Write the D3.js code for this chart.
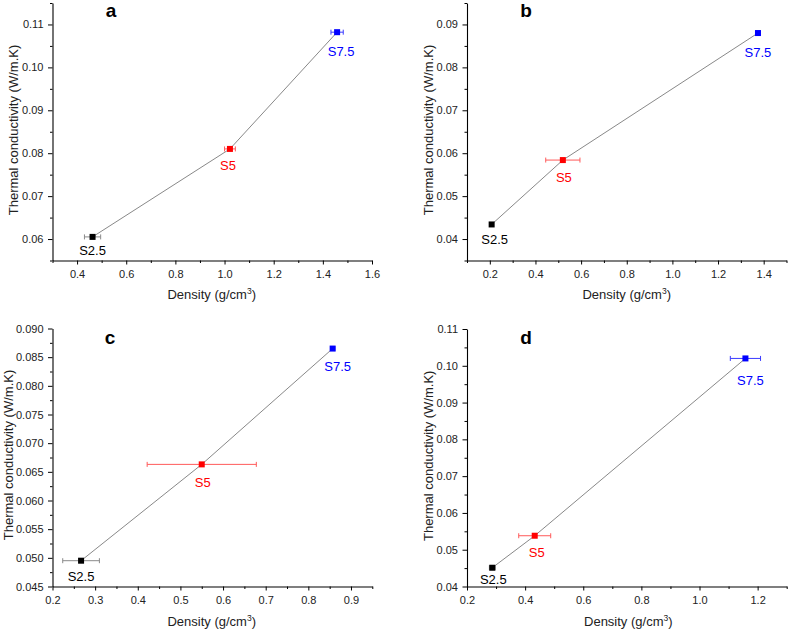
<!DOCTYPE html>
<html>
<head>
<meta charset="utf-8">
<script src="https://cdn.jsdelivr.net/npm/d3@7"></script>
<style>
  body { margin: 0; background: #fff; }
  svg { display: block; }
  text { font-family: Arial, "Liberation Sans", sans-serif; }
</style>
</head>
<body>
<svg id="chart" width="789" height="630"></svg>
<script>
// samples, same order in every panel
var sampleNames = ["S2.5", "S5", "S7.5"];

// panel a
var densityA = [0.463, 1.022, 1.458];
var conductA = [0.0605, 0.0810, 0.1082];
var densErrA = [0.033, 0.022, 0.025];
var xTicksA = [0.4, 0.6, 0.8, 1.0, 1.2, 1.4, 1.6];
var yTicksA = [0.06, 0.07, 0.08, 0.09, 0.10, 0.11];

// panel b
var densityB = [0.208, 0.520, 1.375];
var conductB = [0.0434, 0.0584, 0.0880];
var densErrB = [0.006, 0.075, 0.008];
var xTicksB = [0.2, 0.4, 0.6, 0.8, 1.0, 1.2, 1.4];
var yTicksB = [0.04, 0.05, 0.06, 0.07, 0.08, 0.09];

// panel c
var densityC = [0.267, 0.550, 0.857];
var conductC = [0.0495, 0.0663, 0.0865];
var densErrC = [0.043, 0.128, 0.005];
var xTicksC = [0.2, 0.3, 0.4, 0.5, 0.6, 0.7, 0.8, 0.9];
var yTicksC = [0.045, 0.050, 0.055, 0.060, 0.065, 0.070, 0.075, 0.080, 0.085, 0.090];

// panel d
var densityD = [0.287, 0.433, 1.158];
var conductD = [0.0451, 0.0538, 0.1020];
var densErrD = [0.010, 0.055, 0.052];
var xTicksD = [0.2, 0.4, 0.6, 0.8, 1.0, 1.2];
var yTicksD = [0.04, 0.05, 0.06, 0.07, 0.08, 0.09, 0.10, 0.11];

var colors = ["#000000", "#ff0000", "#0000ff"],
    errColors = ["#8a8a8a", "#ff5a5a", "#3a3aff"];

var svg = d3.select("#chart");

var panels = [
  { letter: "a", xs: densityA, ys: conductA, ex: densErrA, xt: xTicksA, yt: yTicksA,
    xDom: [0.3, 1.6], yDom: [0.055, 0.115], yFmt: ".2f",
    l: 52.5, r: 372, t: 3, b: 260.5, letterX: 111, letterY: 16.7,
    yLabX: 17.5, yLabY: 130, xLabX: 211.7, xLabY: 299,
    lab: [[0, 18], [-2, 21], [4, 24]] },
  { letter: "b", xs: densityB, ys: conductB, ex: densErrB, xt: xTicksB, yt: yTicksB,
    xDom: [0.1, 1.5], yDom: [0.035, 0.095], yFmt: ".2f",
    l: 467, r: 786.5, t: 3, b: 260.5, letterX: 526, letterY: 16.7,
    yLabX: 432.8, yLabY: 130, xLabX: 626.7, xLabY: 299,
    lab: [[3, 20], [1, 22], [0, 24]] },
  { letter: "c", xs: densityC, ys: conductC, ex: densErrC, xt: xTicksC, yt: yTicksC,
    xDom: [0.2, 0.95], yDom: [0.045, 0.090], yFmt: ".3f",
    l: 52.5, r: 372.3, t: 328.5, b: 586.5, letterX: 110, letterY: 344,
    yLabX: 13, yLabY: 455, xLabX: 211.7, xLabY: 626,
    lab: [[0, 20], [1, 23], [5, 22.5]] },
  { letter: "d", xs: densityD, ys: conductD, ex: densErrD, xt: xTicksD, yt: yTicksD,
    xDom: [0.2, 1.3], yDom: [0.04, 0.11], yFmt: ".2f",
    l: 467, r: 786.7, t: 329, b: 586.5, letterX: 526, letterY: 344,
    yLabX: 432.8, yLabY: 455.8, xLabX: 628.3, xLabY: 626,
    lab: [[1, 16.5], [2, 21.5], [5, 27]] }
];

// minor ticks sit halfway between major ones
function minors(major, dom) {
  var step = major[1] - major[0], out = [];
  for (var v = major[0] - step / 2; v <= dom[1] + 1e-9; v += step) {
    if (v >= dom[0] - 1e-9) out.push(+v.toFixed(6));
  }
  return out;
}

panels.forEach(function(p) {
  var x = d3.scaleLinear().domain(p.xDom).range([p.l, p.r]),
      y = d3.scaleLinear().domain(p.yDom).range([p.b, p.t]);
  var g = svg.append("g");

  // minor ticks
  g.append("g").attr("transform", "translate(0," + p.b + ")")
    .call(d3.axisBottom(x).tickValues(minors(p.xt, p.xDom)).tickSize(2.5).tickFormat(""))
    .call(function(s) { s.select(".domain").remove(); });
  g.append("g").attr("transform", "translate(" + p.l + ",0)")
    .call(d3.axisLeft(y).tickValues(minors(p.yt, p.yDom)).tickSize(2.5).tickFormat(""))
    .call(function(s) { s.select(".domain").remove(); });

  // major ticks + spines
  var xa = g.append("g").attr("transform", "translate(0," + p.b + ")")
    .call(d3.axisBottom(x).tickValues(p.xt).tickSize(4).tickSizeOuter(0).tickPadding(6)
      .tickFormat(d3.format(".1f")));
  var ya = g.append("g").attr("transform", "translate(" + p.l + ",0)")
    .call(d3.axisLeft(y).tickValues(p.yt).tickSize(4.5).tickSizeOuter(0).tickPadding(4.5)
      .tickFormat(d3.format(p.yFmt)));
  [xa, ya].forEach(function(a) {
    a.selectAll("text").attr("font-size", 11).attr("fill", "#222")
      .attr("font-family", "Arial, 'Liberation Sans', sans-serif");
    a.select(".domain").attr("stroke-width", 1.1);
  });

  // axis titles
  var xl = g.append("text").attr("x", p.xLabX).attr("y", p.xLabY)
    .attr("text-anchor", "middle").attr("font-size", 13).attr("fill", "#222");
  xl.append("tspan").text("Density (g/cm");
  xl.append("tspan").attr("dy", -5).attr("font-size", 8.5).text("3");
  xl.append("tspan").attr("dy", 5).text(")");

  g.append("text")
    .attr("transform", "translate(" + p.yLabX + "," + p.yLabY + ") rotate(-90)")
    .attr("text-anchor", "middle").attr("font-size", 13).attr("fill", "#222")
    .text("Thermal conductivity (W/m.K)");

  g.append("text").attr("x", p.letterX).attr("y", p.letterY)
    .attr("text-anchor", "middle").attr("font-size", 19).attr("font-weight", "bold")
    .text(p.letter);

  var pts = p.xs.map(function(d, i) { return { x: d, y: p.ys[i], e: p.ex[i], i: i }; });

  // connecting line
  g.append("path").datum(pts)
    .attr("fill", "none").attr("stroke", "#7a7a7a").attr("stroke-width", 0.9)
    .attr("d", d3.line().x(function(d) { return x(d.x); }).y(function(d) { return y(d.y); }));

  // x error bars
  var eb = g.selectAll(".err").data(pts).enter().append("g")
    .attr("stroke", function(d) { return errColors[d.i]; }).attr("stroke-width", 1);
  eb.append("line")
    .attr("x1", function(d) { return x(d.x - d.e); }).attr("x2", function(d) { return x(d.x + d.e); })
    .attr("y1", function(d) { return y(d.y); }).attr("y2", function(d) { return y(d.y); });
  [-1, 1].forEach(function(s) {
    eb.append("line")
      .attr("x1", function(d) { return x(d.x + s * d.e); }).attr("x2", function(d) { return x(d.x + s * d.e); })
      .attr("y1", function(d) { return y(d.y) - 2.5; }).attr("y2", function(d) { return y(d.y) + 2.5; });
  });

  // square markers
  g.selectAll(".pt").data(pts).enter().append("rect")
    .attr("x", function(d) { return x(d.x) - 3; }).attr("y", function(d) { return y(d.y) - 3; })
    .attr("width", 6).attr("height", 6)
    .attr("fill", function(d) { return colors[d.i]; });

  // sample labels
  g.selectAll(".lab").data(pts).enter().append("text")
    .attr("x", function(d) { return x(d.x) + p.lab[d.i][0]; })
    .attr("y", function(d) { return y(d.y) + p.lab[d.i][1]; })
    .attr("text-anchor", "middle").attr("font-size", 13)
    .attr("fill", function(d) { return colors[d.i]; })
    .text(function(d) { return sampleNames[d.i]; });
});
</script>
</body>
</html>
